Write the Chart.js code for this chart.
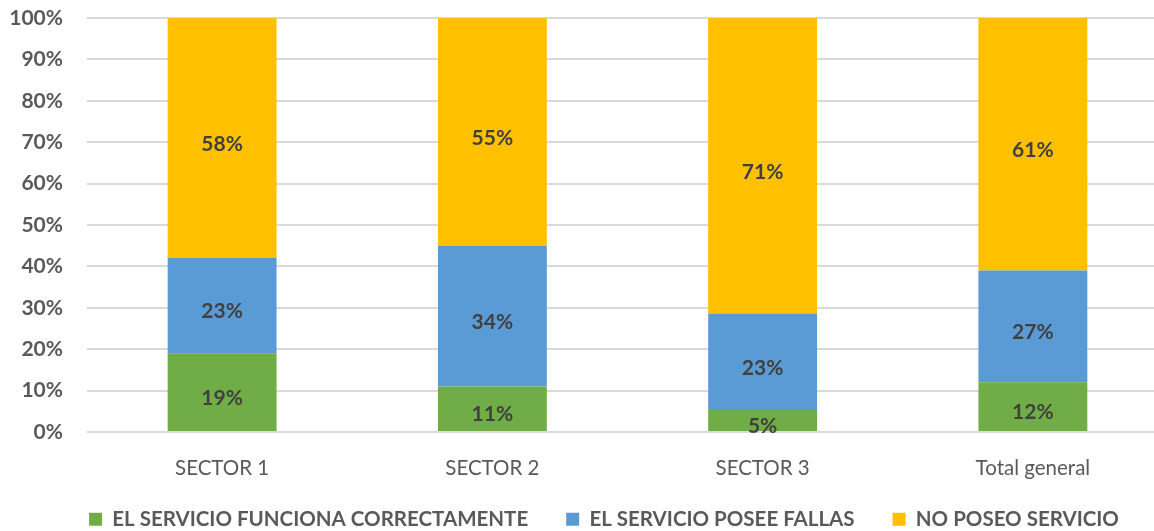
<!DOCTYPE html>
<html lang="es">
  <head>
    <meta charset="UTF-8" />
    <title>Servicio por sector</title>
    <style>
      html, body { margin: 0; padding: 0; background: #fff; overflow: hidden; }
      #caja { width: 1168px; height: 531px; }
    </style>
  </head>
  <body>
    <div id="caja">
      <canvas id="lienzo"></canvas>
    </div>
    <script src="https://cdn.jsdelivr.net/npm/chart.js"></script>
    <script>
      // datos (porcentajes)
      const sectores = ["SECTOR 1", "SECTOR 2", "SECTOR 3", "Total general"];
      const funcionaBien = [19, 11, 5.3, 12];
      const poseeFallas = [23, 34, 23.3, 27];
      const noPoseo = [58, 55, 71.4, 61];
      const marcasY = [0, 10, 20, 30, 40, 50, 60, 70, 80, 90, 100];

      const fuente = "Lato";
      const gris = "#595959";

      // etiquetas dentro de cada tramo de barra
      const etiquetas = {
        id: "etiquetas",
        afterDatasetsDraw(chart) {
          const ctx = chart.ctx;
          ctx.save();
          ctx.font = "bold 21px " + fuente;
          ctx.fillStyle = "#404040";
          ctx.textAlign = "center";
          ctx.textBaseline = "middle";
          chart.data.datasets.forEach((serie, i) => {
            chart.getDatasetMeta(i).data.forEach((barra, j) => {
              const { x, y, base } = barra.getProps(["x", "y", "base"], true);
              ctx.fillText(Math.round(serie.data[j]) + "%", x, (y + base) / 2 + 6);
            });
          });
          ctx.restore();
        },
      };

      // la leyenda va un poco mas arriba y corrida a la derecha, como en el original
      const moverLeyenda = {
        id: "moverLeyenda",
        afterLayout(chart) {
          const ley = chart.legend;
          ley.top -= 11;
          ley.left += 20;
          ley.right += 20;
        },
      };

      const grafico = new Chart(document.querySelector("#lienzo"), {
        type: "bar",
        data: {
          labels: sectores,
          datasets: [
            { label: "EL SERVICIO FUNCIONA CORRECTAMENTE", data: funcionaBien, backgroundColor: "#70AD47" },
            { label: "EL SERVICIO POSEE FALLAS", data: poseeFallas, backgroundColor: "#5B9BD5" },
            { label: "NO POSEO SERVICIO", data: noPoseo, backgroundColor: "#FFC000" },
          ],
        },
        options: {
          responsive: true,
          maintainAspectRatio: false,
          animation: false,
          datasets: { bar: { categoryPercentage: 1, barPercentage: 0.403 } },
          layout: { padding: 0 },
          scales: {
            x: {
              stacked: true,
              grid: { display: false, drawTicks: false },
              border: { display: false },
              ticks: { color: gris, font: { family: fuente, size: 20.5 }, padding: 24 },
              afterFit: (eje) => { eje.height = 50; },
            },
            y: {
              stacked: true,
              min: 0,
              max: 100,
              afterBuildTicks: (eje) => { eje.ticks = marcasY.map((v) => ({ value: v })); },
              grid: { color: "#d9d9d9", lineWidth: 2, drawTicks: false },
              border: { display: false },
              ticks: {
                color: gris,
                font: { family: fuente, size: 21, weight: "bold" },
                padding: 24,
                callback: (v) => v + "%",
              },
              afterFit: (eje) => { eje.width = 87; eje.paddingTop = 18; },
            },
          },
          plugins: {
            tooltip: { enabled: false },
            legend: {
              position: "bottom",
              maxHeight: 49,
              labels: {
                color: gris,
                font: { family: fuente, size: 20.5, weight: "bold" },
                boxWidth: 13,
                boxHeight: 13,
                padding: 38,
              },
            },
          },
        },
        plugins: [etiquetas, moverLeyenda],
      });
    </script>
  </body>
</html>
